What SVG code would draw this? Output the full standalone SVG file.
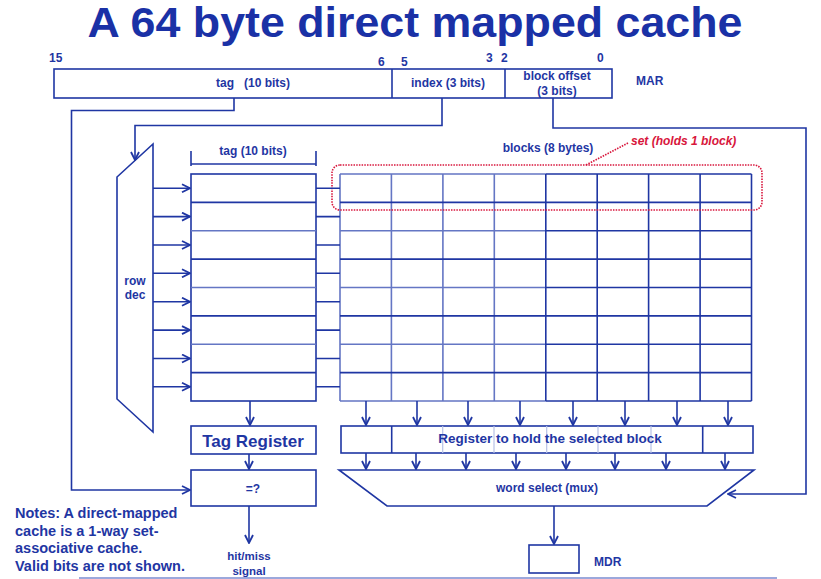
<svg xmlns="http://www.w3.org/2000/svg" width="821" height="579" viewBox="0 0 821 579">
<style>
text{font-family:"Liberation Sans",Arial,sans-serif;font-weight:bold;fill:#1f36a3}
.box{fill:#fff;stroke:#1f36a3;stroke-width:1.6}
.ln{fill:none;stroke:#1f36a3;stroke-width:1.6}
.lt{fill:none;stroke:#6476c4;stroke-width:1.6}
.fa{fill:none;stroke:#b8c2e6;stroke-width:1.2}
.ar{fill:none;stroke:#1f36a3;stroke-width:1.6;marker-end:url(#arr)}
.red{fill:none;stroke:#d8163c;stroke-width:1.6;stroke-dasharray:1.5 1.2}
.s12{font-size:12px}
</style>
<defs>
<marker id="arr" viewBox="0 0 10 10" refX="9" refY="5" markerWidth="10" markerHeight="10" orient="auto" markerUnits="userSpaceOnUse">
<path d="M1,1 L9,5 L1,9" fill="none" stroke="#1f36a3" stroke-width="1.8"/>
</marker>
</defs>
<rect width="821" height="579" fill="#fff"/>

<g id="title">
<text x="415" y="37" font-size="42" text-anchor="middle" textLength="655" lengthAdjust="spacingAndGlyphs" style="fill:#1a31a6">A 64 byte direct mapped cache</text>
</g>

<g id="mar">
<rect class="box" x="54" y="69" width="558" height="29"/>
<line class="ln" x1="392" y1="69" x2="392" y2="98"/>
<line class="ln" x1="505" y1="69" x2="505" y2="98"/>
<text class="s12" x="49" y="62">15</text>
<text class="s12" x="378" y="66">6</text>
<text class="s12" x="401" y="66">5</text>
<text class="s12" x="486" y="62">3</text>
<text class="s12" x="501" y="62">2</text>
<text class="s12" x="597" y="62">0</text>
<text class="s12" x="253" y="87" text-anchor="middle" xml:space="preserve">tag   (10 bits)</text>
<text class="s12" x="448" y="87" text-anchor="middle">index (3 bits)</text>
<text class="s12" x="557" y="80" text-anchor="middle">block offset</text>
<text class="s12" x="557" y="95" text-anchor="middle">(3 bits)</text>
<text class="s12" x="636" y="85">MAR</text>
</g>

<g id="rowdec">
<polygon class="box" points="153,144 153,432 117,399 117,177"/>
<text class="s12" x="135" y="285" text-anchor="middle">row</text>
<text class="s12" x="135" y="299" text-anchor="middle">dec</text>
</g>

<g id="tagarray">
<rect class="box" x="191" y="174" width="125" height="227"/>
<line class="ln" x1="191" y1="202.4" x2="316" y2="202.4"/>
<line class="lt" x1="191" y1="230.8" x2="316" y2="230.8"/>
<line class="ln" x1="191" y1="259.1" x2="316" y2="259.1"/>
<line class="lt" x1="191" y1="287.5" x2="316" y2="287.5"/>
<line class="ln" x1="191" y1="315.9" x2="316" y2="315.9"/>
<line class="lt" x1="191" y1="344.3" x2="316" y2="344.3"/>
<line class="ln" x1="191" y1="372.6" x2="316" y2="372.6"/>
<line class="ln" x1="191" y1="164" x2="316" y2="164"/>
<line class="ln" x1="191" y1="151" x2="191" y2="166"/>
<line class="ln" x1="316" y1="151" x2="316" y2="166"/>
<text class="s12" x="253" y="155" text-anchor="middle">tag (10 bits)</text>
</g>

<g id="dataarray">
<rect x="340" y="174" width="411.5" height="227" fill="#fff"/>
<path class="lt" d="M340,174 H545.8 M340,230.8 H545.8 M340,287.5 H545.8 M340,344.3 H545.8 M340,401 H545.8 M340,174 V401 M391.4,174 V401 M442.9,174 V401 M494.3,174 V401"/>
<path class="ln" d="M340,202.4 H545.8 M340,259.1 H545.8 M340,315.9 H545.8 M340,372.6 H545.8"/>
<path class="ln" d="M545.8,174 H751.5 M545.8,202.4 H751.5 M545.8,230.8 H751.5 M545.8,259.1 H751.5 M545.8,287.5 H751.5 M545.8,315.9 H751.5 M545.8,344.3 H751.5 M545.8,372.6 H751.5 M545.8,401 H751.5 M545.8,174 V401 M597.2,174 V401 M648.6,174 V401 M700.1,174 V401 M751.5,174 V401"/>
<text class="s12" x="548" y="152" text-anchor="middle">blocks (8 bytes)</text>
</g>

<g id="set">
<rect class="red" x="332" y="165" width="430" height="45" rx="8"/>
<line class="red" x1="586" y1="165" x2="628" y2="143"/>
<text x="631" y="145" font-size="12" font-style="italic" style="fill:#d8163c">set (holds 1 block)</text>
</g>

<g id="register">
<rect class="box" x="341" y="426" width="412" height="27"/>
<path class="fa" d="M442.7,426 V453 M494,426 V453 M546.7,426 V453 M598,426 V453 M651,426 V453"/>
<line class="ln" x1="391.7" y1="426" x2="391.7" y2="453"/>
<line class="ln" x1="702.7" y1="426" x2="702.7" y2="453"/>
<text x="550" y="443" font-size="13.5" text-anchor="middle">Register to hold the selected block</text>
</g>

<g id="tagreg">
<rect class="box" x="191" y="426" width="125" height="28"/>
<text x="253" y="447" font-size="17" text-anchor="middle">Tag Register</text>
</g>

<g id="compare">
<rect class="box" x="191" y="470" width="125" height="36"/>
<text class="s12" x="253" y="493" text-anchor="middle">=?</text>
</g>

<g id="mux">
<polygon class="box" points="339,470 754,470 707,506 387,506"/>
<text class="s12" x="547" y="492" text-anchor="middle">word select (mux)</text>
</g>

<g id="mdr">
<rect class="box" x="529" y="545" width="50" height="28"/>
<text class="s12" x="594" y="566">MDR</text>
</g>

<g id="hitmiss">
<text x="249" y="560" font-size="11.5" text-anchor="middle">hit/miss</text>
<text x="249" y="575" font-size="11.5" text-anchor="middle">signal</text>
</g>

<g id="notes">
<text x="15" y="518" font-size="14.5">Notes: A direct-mapped</text>
<text x="15" y="536" font-size="14.5">cache is a 1-way set-</text>
<text x="15" y="553" font-size="14.5">associative cache.</text>
<text x="15" y="571" font-size="14.5">Valid bits are not shown.</text>
</g>

<g id="connectors">
<polyline class="ar" points="234,98 234,110.5 71.5,110.5 71.5,490 190,490"/>
<polyline class="ar" points="442,98 442,125.5 135,125.5 135,160"/>
<polyline class="ar" points="553,98 553,128 806,128 806,494 728,494"/>
<line class="ar" x1="153" y1="188.2" x2="190" y2="188.2"/>
<line class="ar" x1="153" y1="216.6" x2="190" y2="216.6"/>
<line class="ar" x1="153" y1="245" x2="190" y2="245"/>
<line class="ar" x1="153" y1="273.3" x2="190" y2="273.3"/>
<line class="ar" x1="153" y1="301.7" x2="190" y2="301.7"/>
<line class="ar" x1="153" y1="330.1" x2="190" y2="330.1"/>
<line class="ar" x1="153" y1="358.5" x2="190" y2="358.5"/>
<line class="ar" x1="153" y1="386.8" x2="190" y2="386.8"/>
<path class="ln" d="M316,188.2 H340 M316,216.6 H340 M316,245 H340 M316,273.3 H340 M316,301.7 H340 M316,330.1 H340 M316,358.5 H340 M316,386.8 H340"/>
<line class="ar" x1="366" y1="401" x2="366" y2="425"/>
<line class="ar" x1="417" y1="401" x2="417" y2="425"/>
<line class="ar" x1="468" y1="401" x2="468" y2="425"/>
<line class="ar" x1="520" y1="401" x2="520" y2="425"/>
<line class="ar" x1="573" y1="401" x2="573" y2="425"/>
<line class="ar" x1="625" y1="401" x2="625" y2="425"/>
<line class="ar" x1="677" y1="401" x2="677" y2="425"/>
<line class="ar" x1="728" y1="401" x2="728" y2="425"/>
<line class="ar" x1="366" y1="453" x2="366" y2="469"/>
<line class="ar" x1="416" y1="453" x2="416" y2="469"/>
<line class="ar" x1="466" y1="453" x2="466" y2="469"/>
<line class="ar" x1="516" y1="453" x2="516" y2="469"/>
<line class="ar" x1="566" y1="453" x2="566" y2="469"/>
<line class="ar" x1="615" y1="453" x2="615" y2="469"/>
<line class="ar" x1="666" y1="453" x2="666" y2="469"/>
<line class="ar" x1="725" y1="453" x2="725" y2="469"/>
<line class="ar" x1="250" y1="401" x2="250" y2="425"/>
<line class="ar" x1="249" y1="454" x2="249" y2="469"/>
<line class="ar" x1="249" y1="506" x2="249" y2="543"/>
<line class="ar" x1="554" y1="506" x2="554" y2="544"/>
</g>
<line x1="79" y1="578" x2="777" y2="578" stroke="#7b8bd0" stroke-width="1.5"/>
</svg>
